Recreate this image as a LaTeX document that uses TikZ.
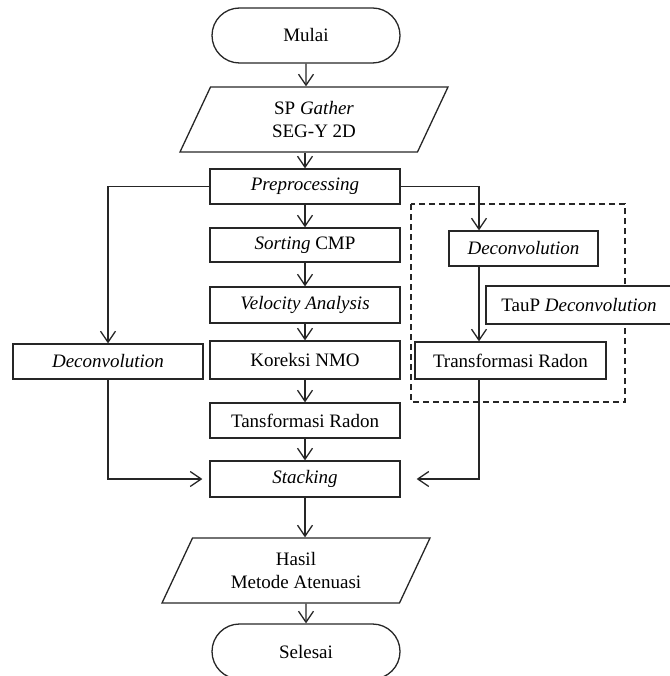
\documentclass[tikz,border=0pt]{standalone}
\usepackage{fontspec}
\setmainfont{Liberation Serif}
\usetikzlibrary{arrows.meta,shapes.geometric,shapes.misc}

\begin{document}
\begin{tikzpicture}[x=1pt,y=-1pt,line width=1.3pt,draw=black!85,
  every node/.style={font=\fontsize{19}{23}\selectfont,align=center,inner sep=0pt},
  proc/.style={rectangle,draw,minimum width=190pt,minimum height=35pt},
  term/.style={rounded rectangle,draw,minimum width=188pt,minimum height=55pt},
  io/.style={trapezium,draw,trapezium left angle=50,trapezium right angle=130,
    trapezium stretches body,minimum width=268pt,minimum height=65pt},
  arr/.style={-{Straight Barb[length=11pt,width=15pt]}}]
  \useasboundingbox (0,0) rectangle (669,676);

  % main column
  \node[term] (mulai) at (306,35.5) {Mulai};
  \node[io] (sp) at (314,119.5) {SP \textit{Gather}\\SEG-Y 2D};
  \node[proc] (pre) at (305,186.5) {\textit{Preprocessing}};
  \node[proc,minimum height=34pt] (sort) at (305,245) {\textit{Sorting} CMP};
  \node[proc,minimum height=36pt] (velo) at (305,305) {\textit{Velocity Analysis}};
  \node[proc,minimum height=38pt] (nmo) at (305,360) {Koreksi NMO};
  \node[proc] (tr) at (305,420.5) {Tansformasi Radon};
  \node[proc,minimum height=36pt] (stack) at (305,479) {\textit{Stacking}};
  \node[io] (hasil) at (296,570.5) {Hasil\\Metode Atenuasi};
  \node[term] (selesai) at (306,651.5) {Selesai};

  % side branches
  \node[proc] (ldec) at (108,361.5) {\textit{Deconvolution}};
  \draw[dashed,dash pattern=on 6pt off 4pt] (411,204) rectangle (625,402);
  \node[proc,minimum width=149pt] (rdec) at (523.5,248.5) {\textit{Deconvolution}};
  \node[proc,minimum width=186pt,minimum height=38pt,fill=white] (taup) at (579,305) {TauP \textit{Deconvolution}};
  \node[proc,minimum width=191pt,minimum height=37pt] (rtr) at (510.5,360.5) {Transformasi Radon};
  \coordinate (rx) at (479,0);

  \draw[arr] (mulai) -- (mulai |- sp.north);
  \draw[arr] (pre |- sp.south) -- (pre.north);
  \foreach \a/\b in {pre/sort,sort/velo,velo/nmo,nmo/tr,tr/stack}
    \draw[arr] (\a) -- (\b);
  \draw[arr] (stack) -- (stack |- hasil.north);
  \draw[arr] (selesai |- hasil.south) -- (selesai);

  \draw[arr] (pre.west) -| (ldec.north);
  \draw[arr] (ldec.south) |- ([xshift=-7pt]stack.west);
  \draw[arr] (pre.east) -| (rx |- rdec.north);
  \draw[arr] (rx |- rdec.south) -- (rx |- rtr.north);
  \draw[arr] (rx |- rtr.south) |- ([xshift=16pt]stack.east);
\end{tikzpicture}
\end{document}
